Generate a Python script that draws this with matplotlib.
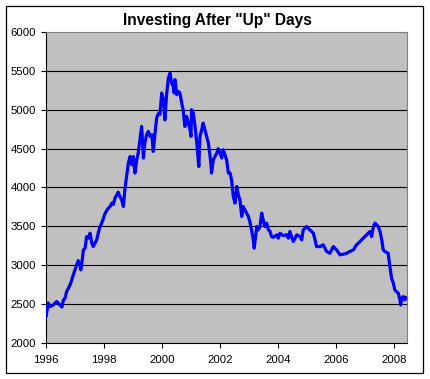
import numpy as np
import matplotlib
matplotlib.use("Agg")
import matplotlib.pyplot as plt
from matplotlib.patches import Rectangle

# data (decimal year, value)
years = [1996.00, 1996.01, 1996.09, 1996.15, 1996.26, 1996.38, 1996.49, 1996.56, 1996.61, 1996.67,
         1996.72, 1996.84, 1996.90, 1996.95, 1997.01, 1997.07, 1997.12, 1997.18, 1997.21, 1997.24,
         1997.30, 1997.36, 1997.41, 1997.47, 1997.53, 1997.59, 1997.64, 1997.70, 1997.76, 1997.81,
         1997.87, 1997.93, 1997.99, 1998.04, 1998.10, 1998.16, 1998.22, 1998.28, 1998.33, 1998.39,
         1998.50, 1998.56, 1998.62, 1998.68, 1998.73, 1998.79, 1998.85, 1998.91, 1998.97, 1999.02,
         1999.08, 1999.14, 1999.19, 1999.25, 1999.31, 1999.37, 1999.42, 1999.48, 1999.54, 1999.60,
         1999.66, 1999.71, 1999.77, 1999.83, 1999.88, 1999.94, 2000.00, 2000.06, 2000.11, 2000.17,
         2000.23, 2000.29, 2000.34, 2000.40, 2000.43, 2000.46, 2000.52, 2000.57, 2000.63, 2000.69,
         2000.74, 2000.80, 2000.86, 2000.92, 2000.98, 2001.01, 2001.03, 2001.09, 2001.15, 2001.21,
         2001.26, 2001.28, 2001.32, 2001.38, 2001.43, 2001.49, 2001.55, 2001.61, 2001.67, 2001.70,
         2001.72, 2001.78, 2001.84, 2001.90, 2001.95, 2002.01, 2002.07, 2002.12, 2002.18, 2002.24,
         2002.30, 2002.36, 2002.41, 2002.47, 2002.53, 2002.59, 2002.64, 2002.70, 2002.76, 2002.81,
         2002.93, 2002.99, 2003.04, 2003.10, 2003.16, 2003.19, 2003.28, 2003.33, 2003.39, 2003.45,
         2003.50, 2003.56, 2003.62, 2003.68, 2003.73, 2003.79, 2003.85, 2003.97, 2004.02, 2004.08,
         2004.19, 2004.31, 2004.37, 2004.42, 2004.54, 2004.66, 2004.77, 2004.83, 2004.88, 2005.00,
         2005.11, 2005.23, 2005.29, 2005.34, 2005.46, 2005.57, 2005.69, 2005.80, 2005.92, 2006.03,
         2006.15, 2006.26, 2006.38, 2006.49, 2006.61, 2006.72, 2006.84, 2006.95, 2007.07, 2007.18,
         2007.24, 2007.30, 2007.36, 2007.41, 2007.47, 2007.53, 2007.59, 2007.64, 2007.70, 2007.81,
         2007.87, 2007.93, 2007.99, 2008.04, 2008.10, 2008.16, 2008.22, 2008.24, 2008.28, 2008.33,
         2008.39, 2008.42]
values = [2400, 2335, 2512, 2465, 2486, 2530, 2486, 2460, 2550, 2577,
          2658, 2745, 2810, 2873, 2938, 3003, 3058, 3003, 2938, 3003,
          3196, 3218, 3368, 3347, 3411, 3283, 3239, 3283, 3325, 3411,
          3490, 3540, 3600, 3660, 3700, 3734, 3755, 3799, 3780, 3863,
          3940, 3884, 3841, 3755, 3970, 4142, 4314, 4400, 4293, 4400,
          4186, 4357, 4444, 4615, 4787, 4379, 4573, 4680, 4723, 4660,
          4680, 4465, 4700, 4900, 4950, 4940, 5218, 5130, 4870, 5200,
          5411, 5476, 5347, 5303, 5218, 5390, 5196, 5239, 5218, 5089,
          5003, 4787, 4916, 4830, 4744, 4658, 5003, 4960, 4787, 4573,
          4357, 4271, 4658, 4744, 4830, 4744, 4658, 4573, 4400, 4300,
          4186, 4357, 4400, 4444, 4500, 4444, 4380, 4487, 4420, 4357,
          4186, 4186, 4100, 3884, 3799, 4013, 3906, 3841, 3626, 3755,
          3670, 3626, 3561, 3454, 3325, 3218, 3497, 3454, 3497, 3670,
          3583, 3497, 3540, 3454, 3440, 3368, 3358, 3390, 3347, 3411,
          3380, 3390, 3347, 3433, 3304, 3390, 3368, 3325, 3454, 3497,
          3454, 3411, 3325, 3239, 3239, 3261, 3175, 3153, 3239, 3196,
          3132, 3140, 3153, 3175, 3196, 3261, 3304, 3347, 3390, 3433,
          3368, 3497, 3540, 3519, 3497, 3433, 3325, 3196, 3175, 3153,
          2980, 2830, 2766, 2680, 2658, 2637, 2551, 2486, 2572, 2594,
          2551, 2580]

title = 'Investing After "Up" Days'
xticks = [1996, 1998, 2000, 2002, 2004, 2006, 2008]
yticks = [2000, 2500, 3000, 3500, 4000, 4500, 5000, 5500, 6000]

plt.rcParams['font.family'] = ['Liberation Sans', 'DejaVu Sans']

fig = plt.figure(figsize=(4.3, 3.79), dpi=100)
fig.patch.set_facecolor('white')

# outer chart border
fig.patches.append(Rectangle((5.5 / 430, 1 - 372.5 / 379), 417.5 / 430, 367.0 / 379,
                             transform=fig.transFigure, fill=False,
                             edgecolor='black', linewidth=0.9))

ax = fig.add_axes([45.7 / 430, 1 - 342.7 / 379, 361.0 / 430, 310.4 / 379])
ax.set_facecolor('#C0C0C0')

for v in yticks[1:-1]:
    ax.axhline(v, color='black', linewidth=0.8, zorder=1)

ax.plot(years, values, color='#0000FF', linewidth=2.3, zorder=3)

ax.set_xlim(1996, 2008.45)
ax.set_ylim(2000, 6000)
ax.set_xticks(xticks)
ax.set_yticks(yticks)
ax.tick_params(axis='both', direction='out', length=3.8, width=0.8,
               labelsize=8.2, colors='black')
ax.tick_params(axis='x', pad=5)
ax.tick_params(axis='y', pad=3.2)

for side in ['top', 'right']:
    ax.spines[side].set_color('#808080')
    ax.spines[side].set_linewidth(0.8)
for side in ['left', 'bottom']:
    ax.spines[side].set_color('black')
    ax.spines[side].set_linewidth(0.8)

fig.text(217 / 430, 1 - 20 / 379, title, ha='center', va='center',
         fontsize=11.2, fontweight='bold')

fig.savefig('out.png', dpi=100)
